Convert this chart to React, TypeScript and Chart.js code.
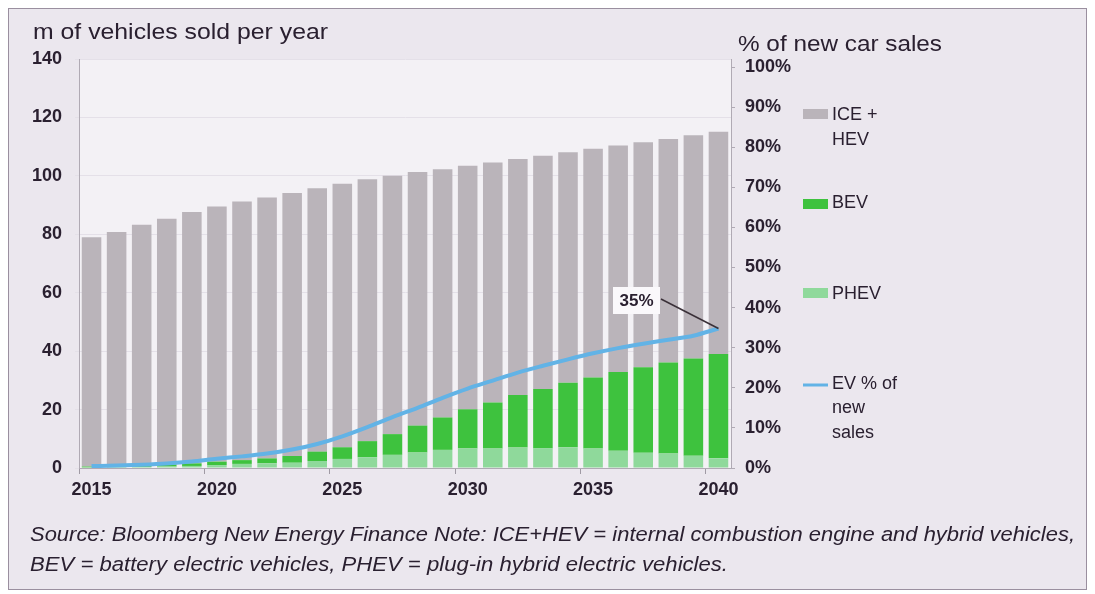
import { useEffect, useRef } from 'react';
import { Chart, registerables } from 'chart.js';

Chart.register(...registerables);

const years = ['2015','2016','2017','2018','2019','2020','2021','2022','2023','2024','2025','2026','2027','2028','2029','2030','2031','2032','2033','2034','2035','2036','2037','2038','2039','2040'];
const phev = [0.2,0.3,0.4,0.5,0.7,1.0,1.4,1.6,1.8,2.4,3.1,3.7,4.5,5.3,6.2,6.7,6.7,7.0,6.8,7.1,6.7,5.9,5.2,5.0,4.2,3.3];
const bev = [0.3,0.4,0.5,0.7,0.9,1.2,1.3,1.7,2.3,3.2,4.0,5.5,7.1,9.2,11.1,13.4,15.7,18.0,20.2,22.1,24.3,27.0,29.3,31.1,33.3,35.7];
const iceHev = [78.5,80.1,82.4,84.1,86.0,87.3,88.5,89.3,90.0,90.2,90.2,89.6,88.4,86.8,85.0,83.4,82.2,80.8,79.9,78.9,78.3,77.5,77.0,76.5,76.4,76.1];
const evShare = [0.5,0.6,0.8,1.1,1.6,2.3,2.9,3.6,4.6,6.0,7.9,10.2,12.7,15.0,17.5,19.8,21.8,23.8,25.5,27.1,28.6,29.9,31.0,32.0,33.0,34.8];
const rightTicks = [0,10,20,30,40,50,60,70,80,90,100];
const leftTitle = 'm of vehicles sold per year';
const rightTitle = '% of new car sales';
const calloutText = '35%';
const captionLines = [
  'Source: Bloomberg New Energy Finance Note: ICE+HEV = internal combustion engine and hybrid vehicles,',
  'BEV = battery electric vehicles, PHEV = plug-in hybrid electric vehicles.',
];

const FONT = '"Liberation Sans", Arial, sans-serif';
const TEXT = '#2a2030';
const GRAY = '#bab4ba';
const GREEN = '#3ec23e';
const LIGHT_GREEN = '#8fd99b';
const BLUE = '#62b3e6';

function fitText(ctx: CanvasRenderingContext2D, text: string, x: number, y: number, target: number) {
  const w = ctx.measureText(text).width;
  ctx.save();
  ctx.translate(x, y);
  ctx.scale(target / w, 1);
  ctx.fillText(text, 0, 0);
  ctx.restore();
}

export default function App() {
  const ref = useRef<HTMLCanvasElement>(null);

  useEffect(() => {
    const bgPlugin = {
      id: 'bg',
      beforeDraw(chart: any) {
        const { ctx, chartArea: a } = chart;
        ctx.save();
        ctx.fillStyle = '#f3f1f5';
        ctx.fillRect(a.left, a.top, a.width, a.height);
        ctx.restore();
      },
    };

    const overlay = {
      id: 'overlay',
      afterDraw(chart: any) {
        const ctx: CanvasRenderingContext2D = chart.ctx;
        ctx.save();
        ctx.fillStyle = TEXT;
        ctx.textBaseline = 'middle';
        ctx.textAlign = 'left';
        // titles
        ctx.font = `22px ${FONT}`;
        fitText(ctx, leftTitle, 24, 24, 295);
        fitText(ctx, rightTitle, 729, 36, 204);

        // legend
        ctx.font = `18px ${FONT}`;
        const lx = 794;
        ctx.fillStyle = GRAY;
        ctx.fillRect(lx, 100, 25, 10);
        ctx.fillStyle = GREEN;
        ctx.fillRect(lx, 190, 25, 10);
        ctx.fillStyle = LIGHT_GREEN;
        ctx.fillRect(lx, 279, 25, 10);
        ctx.strokeStyle = BLUE;
        ctx.lineWidth = 3;
        ctx.beginPath();
        ctx.moveTo(lx, 376);
        ctx.lineTo(lx + 25, 376);
        ctx.stroke();
        ctx.fillStyle = TEXT;
        ctx.fillText('ICE +', 823, 106);
        ctx.fillText('HEV', 823, 131);
        ctx.fillText('BEV', 823, 194);
        ctx.fillText('PHEV', 823, 285);
        ctx.fillText('EV % of', 823, 375);
        ctx.fillText('new', 823, 399);
        ctx.fillText('sales', 823, 424);

        // callout
        const xs = chart.scales.x;
        const y2 = chart.scales.y2;
        const last = evShare.length - 1;
        const px = xs.getPixelForValue(last);
        const py = y2.getPixelForValue(evShare[last]);
        ctx.strokeStyle = '#3a3038';
        ctx.lineWidth = 1.5;
        ctx.beginPath();
        ctx.moveTo(652, 290);
        ctx.lineTo(px, py);
        ctx.stroke();
        ctx.fillStyle = '#faf8fb';
        ctx.fillRect(604, 278, 47, 27);
        ctx.fillStyle = TEXT;
        ctx.font = `bold 17px ${FONT}`;
        ctx.textAlign = 'center';
        ctx.fillText(calloutText, 627.5, 292);

        // caption
        ctx.textAlign = 'left';
        ctx.font = `italic 20px ${FONT}`;
        fitText(ctx, captionLines[0], 21, 526, 1045);
        fitText(ctx, captionLines[1], 21, 556, 698);
        ctx.restore();
      },
    };

    const barCommon = { stack: 's', order: 1, barPercentage: 0.78, categoryPercentage: 1, yAxisID: 'y' };
    const tickFont = { family: FONT, size: 18, weight: 'bold' as const };

    const chart = new Chart(ref.current as HTMLCanvasElement, {
      type: 'bar',
      data: {
        labels: years,
        datasets: [
          {
            type: 'line',
            label: 'EV % of new sales',
            data: evShare,
            yAxisID: 'y2',
            borderColor: BLUE,
            borderWidth: 4,
            pointRadius: 0,
            cubicInterpolationMode: 'monotone',
            order: 0,
          } as any,
          { label: 'PHEV', data: phev, backgroundColor: LIGHT_GREEN, ...barCommon },
          { label: 'BEV', data: bev, backgroundColor: GREEN, ...barCommon },
          { label: 'ICE + HEV', data: iceHev, backgroundColor: GRAY, ...barCommon },
        ],
      },
      options: {
        animation: false,
        responsive: false,
        maintainAspectRatio: false,
        layout: { padding: { top: 50, left: 0, right: 285, bottom: 81 } },
        plugins: { legend: { display: false }, tooltip: { enabled: false } },
        scales: {
          x: {
            stacked: true,
            offset: true,
            grid: {
              offset: true,
              drawOnChartArea: false,
              tickLength: 6,
              color: (c: any) => (c.index % 5 === 0 ? '#a09aa4' : 'rgba(0,0,0,0)'),
            },
            border: { color: '#b0aab4' },
            ticks: {
              autoSkip: false,
              maxRotation: 0,
              color: TEXT,
              font: tickFont,
              padding: 5,
              callback: (_v: any, i: number) => (Number(years[i]) % 5 === 0 ? years[i] : ''),
            },
            afterFit: (s: any) => { s.height = 40; },
          },
          y: {
            stacked: true,
            min: 0,
            max: 140,
            ticks: { stepSize: 20, color: TEXT, font: tickFont, padding: 13 },
            grid: { color: '#e4e0e8', tickLength: 4 },
            border: { color: '#b0aab4' },
            afterFit: (s: any) => { s.width = 70; },
          },
          y2: {
            position: 'right',
            min: 0,
            max: 102,
            grid: { drawOnChartArea: false, tickLength: 4, color: '#b0aab4' },
            border: { color: '#b0aab4' },
            ticks: { color: TEXT, font: tickFont, padding: 10, callback: (v: any) => `${v}%` },
            afterBuildTicks: (s: any) => {
              s.ticks = rightTicks.map((v) => ({ value: v }));
            },
            afterFit: (s: any) => { s.width = 70; },
          },
        },
      } as any,
      plugins: [bgPlugin, overlay],
    });
    return () => chart.destroy();
  }, []);

  return (
    <div style={{ width: 1077, height: 580, border: '1px solid #9a8f9f', background: '#ebe7ee' }}>
      <canvas ref={ref} width={1077} height={580} style={{ display: 'block' }} />
    </div>
  );
}
